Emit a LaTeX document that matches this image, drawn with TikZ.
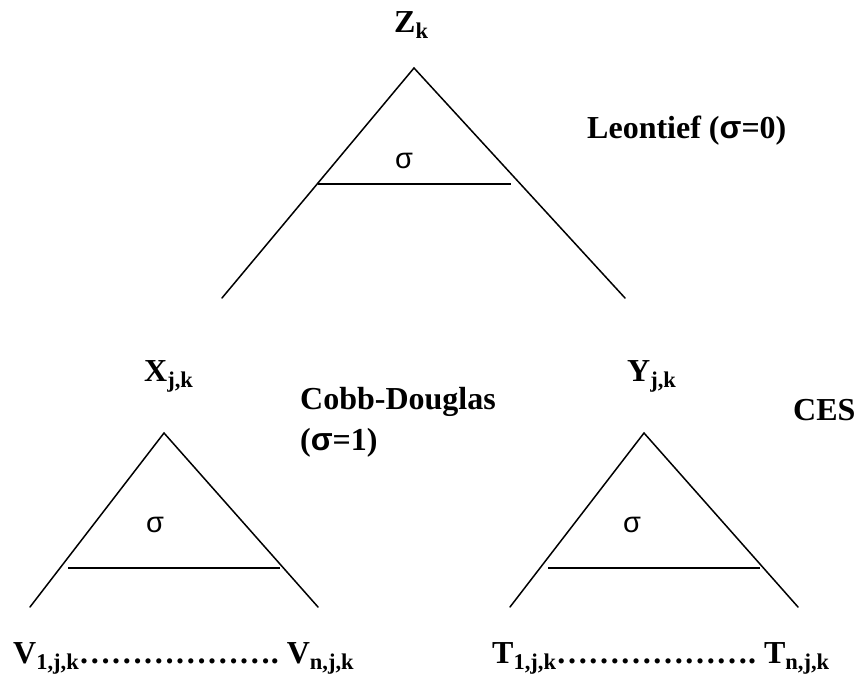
\documentclass[tikz,border=0pt]{standalone}
\usepackage{fontspec}
\setmainfont{Liberation Serif}
\newfontfamily\symfont{Liberation Sans}
\newcommand\sbs[1]{\raisebox{-0.2em}{\fontsize{22.5}{22.5}\selectfont #1}}
\newcommand\sg{{\symfont σ}}
\newcommand\dotrun{……………\kern-0.05em…………\kern-0.05em.}
\tikzset{
  lbl/.style={inner sep=0pt, font=\fontsize{32}{41}\selectfont\bfseries},
  sig/.style={inner sep=0pt, font=\fontsize{29}{29}\selectfont\symfont},
  tri/.style={line width=1.5pt, line cap=round, line join=miter},
  bar/.style={line width=1.8pt},
}
\begin{document}
\begin{tikzpicture}[x=1pt,y=-1pt]
\useasboundingbox (0,0) rectangle (857,680);
% top triangle
\coordinate (tA) at (414,68);
\coordinate (tL) at (222,298);
\coordinate (tR) at (625,298);
\coordinate (tb1) at (318,184);
\coordinate (tb2) at (511,184);
\draw[tri] (tL) -- (tA) -- (tR);
\draw[bar] (tb1) -- (tb2);
\node[sig] (ts) at (404,161) {σ};
% left triangle
\coordinate (lA) at (164,433);
\coordinate (lL) at (30,607);
\coordinate (lR) at (318,607);
\coordinate (lb1) at (68,568);
\coordinate (lb2) at (280,568);
\draw[tri] (lL) -- (lA) -- (lR);
\draw[bar] (lb1) -- (lb2);
\node[sig] (ls) at (155,525) {σ};
% right triangle
\coordinate (rA) at (644,433);
\coordinate (rL) at (510,607);
\coordinate (rR) at (798,607);
\coordinate (rb1) at (548,568);
\coordinate (rb2) at (760,568);
\draw[tri] (rL) -- (rA) -- (rR);
\draw[bar] (rb1) -- (rb2);
\node[sig] (rs) at (632,525) {σ};
% labels
\node[lbl, anchor=base west] (Z) at (394,32) {Z\sbs{k}};
\node[lbl, anchor=base west] (leo) at (587,138) {Leontief (\sg=0)};
\node[lbl, anchor=base west] (X) at (144,381) {X\sbs{j,k}};
\node[lbl, anchor=base west] (Y) at (627,381) {Y\sbs{j,k}};
\node[lbl, anchor=base west, align=left] (cd) at (300,450) {Cobb-Douglas\\(\sg=1)};
\node[lbl, anchor=base west] (ces) at (793,420) {CES};
\node[lbl, anchor=base west] (V) at (13,663) {V\sbs{1,j,k}……………….~V\sbs{n,j,k}};
\node[lbl, anchor=base west] (T) at (492,663) {T\sbs{1,j,k}……………….~T\sbs{n,j,k}};
\end{tikzpicture}
\end{document}
